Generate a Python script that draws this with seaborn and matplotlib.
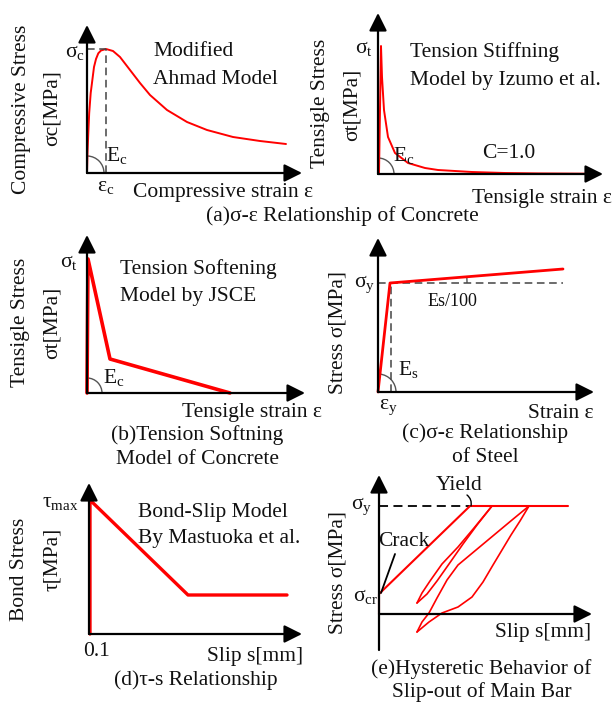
import matplotlib
matplotlib.use("Agg")
import matplotlib.pyplot as plt
from matplotlib.patches import Arc
import seaborn as sns

sns.set_theme(style="white")
plt.rcParams['font.family'] = ['Liberation Serif', 'DejaVu Serif']
plt.rcParams['mathtext.fontset'] = 'custom'
plt.rcParams['mathtext.rm'] = 'Liberation Serif'
plt.rcParams['mathtext.it'] = 'Liberation Serif:italic'

W, H = 615, 704
fig = plt.figure(figsize=(W / 100, H / 100), dpi=100)
fig.patch.set_facecolor('white')

RED = '#ff0000'
FS = 15.5

# ---------------- data (schematic units) ----------------
# (a) compressive: modified Ahmad model
comp_strain = [0, 0.5, 1.3, 2.2, 3.7, 7, 9, 11.3, 14, 19, 26, 33, 43, 53, 63, 80, 100, 120, 146, 173, 199]
comp_stress = [0, 20, 40, 60, 80, 106, 114, 119.7, 122.5, 124, 122, 116, 103, 90, 78, 63, 51, 43, 36, 32, 29]
comp_peak = (19, 124)

# (a) tension stiffening (Izumo et al.)
stiff_strain = [1, 3, 4, 6, 10, 17, 30, 47, 60, 94, 127, 160, 214]
stiff_stress = [0, 128, 97, 64, 37, 21, 11, 6, 4, 2, 1, 0.6, 0.3]

# (b) tension softening (JSCE)
soft_strain = [0, 1, 23, 143]
soft_stress = [0, 134, 34, 0]

# (c) steel bilinear
steel_strain = [0, 12, 185]
steel_stress = [0, 109, 123]
steel_yield_strain = 13.5
steel_yield_stress = 109

# (d) bond-slip
bond_slip = [1, 1, 99, 198]
bond_tau = [0, 134, 39, 39]

# (e) hysteresis of slip-out
hys_slip = [0, 0, 91, 189]
hys_stress = [0, 20, 108, 108]
loop1_unload_s = [113, 95, 79, 63, 51, 43, 38]
loop1_unload_f = [108, 86, 67, 50, 33, 21, 11]
loop1_reload_s = [38, 48, 58, 70, 84, 98, 113]
loop1_reload_f = [11, 20, 33, 50, 70, 89, 108]
loop2_unload_s = [150, 141, 132, 123, 114, 104, 93, 79, 63, 50, 38]
loop2_unload_f = [108, 93, 79, 64, 49, 32, 17, 7, 1, -8, -18]
loop2_reload_s = [38, 43, 50, 58, 68, 79, 97, 115, 133, 150]
loop2_reload_f = [-18, -8, 1, 16, 34, 49, 64, 79, 94, 108]


# ---------------- helpers ----------------
def panel(ox, oy, xtip, ytip, ybot=0):
    """axes whose data units are pixels, origin at pixel (ox, oy)"""
    x0, x1 = -30, xtip + 15
    y0, y1 = -45, ytip + 15
    ax = fig.add_axes([(ox + x0) / W, 1 - (oy - y0) / H,
                       (x1 - x0) / W, (y1 - y0) / H])
    ax.set_xlim(x0, x1)
    ax.set_ylim(y0, y1)
    ax.axis('off')
    ax.patch.set_alpha(0)
    ap = dict(arrowstyle='-|>,head_length=0.9,head_width=0.45', color='black', lw=1.6,
              shrinkA=0, shrinkB=0, mutation_scale=12)
    ax.annotate('', xy=(xtip, 0), xytext=(0, 0), arrowprops=ap, annotation_clip=False)
    ax.annotate('', xy=(0, ytip), xytext=(0, ybot), arrowprops=ap, annotation_clip=False)
    return ax


def red(ax, x, y, lw=1.6):
    sns.lineplot(x=x, y=y, sort=False, estimator=None, color=RED, lw=lw, ax=ax)
    ax.set_xlabel('')
    ax.set_ylabel('')


def arc(ax, r, t2, t1=0, center=(0, 0)):
    ax.add_patch(Arc(center, 2 * r, 2 * r, theta1=t1, theta2=t2, color='#555555', lw=1.0))


def T(x, y, s, ha='center', size=FS, rot=0, va='center'):
    fig.text(x / W, 1 - y / H, s, ha=ha, va=va, fontsize=size, rotation=rot, color='#111111')


dash = dict(color='#444444', lw=1.1, ls=(0, (5, 3)))

# ---------------- (a) compressive ----------------
ax = panel(87, 173, 215, 148)
red(ax, comp_strain, comp_stress, lw=1.4)
ax.plot([0, comp_peak[0]], [comp_peak[1], comp_peak[1]], **dash)
ax.plot([comp_peak[0], comp_peak[0]], [0, comp_peak[1]], **dash)
arc(ax, 17, 88)
T(75, 52, r'$\mathregular{σ_c}$')
T(117, 155, r'$\mathregular{E_c}$')
T(106, 187, r'$\mathregular{ε_c}$')
T(133, 193, 'Compressive strain ε', ha='left')
T(153, 52, 'Modified', ha='left')
T(153, 80, 'Ahmad Model', ha='left')
T(22, 109, 'Compressive Stress', rot=90)
T(52, 108, 'σc[MPa]', rot=90)

# ---------------- (a) tension stiffening ----------------
ax = panel(378, 174, 225, 161)
red(ax, stiff_strain, stiff_stress, lw=1.4)
arc(ax, 16, 89)
T(364, 48, r'$\mathregular{σ_t}$')
T(404, 155, r'$\mathregular{E_c}$')
T(509, 153, 'C=1.0')
T(410, 52, 'Tension Stiffning', ha='left')
T(410, 80, 'Model by Izumo et al.', ha='left')
T(472, 198, 'Tensigle strain ε', ha='left')
T(320, 103, 'Tensigle Stress', rot=90)
T(352, 105, 'σt[MPa]', rot=90)
T(342, 216, '(a)σ-ε Relationship of Concrete')

# ---------------- (b) tension softening ----------------
ax = panel(87, 393, 218, 158)
red(ax, soft_strain, soft_stress, lw=2.6)
arc(ax, 15, 89)
T(69, 263, r'$\mathregular{σ_t}$')
T(114, 377, r'$\mathregular{E_c}$')
T(120, 269, 'Tension Softening', ha='left')
T(120, 296, 'Model by JSCE', ha='left')
T(182, 412, 'Tensigle strain ε', ha='left')
T(197, 435, '(b)Tension Softning')
T(197, 459, 'Model of Concrete')
T(21, 322, 'Tensigle Stress', rot=90)
T(52, 323, 'σt[MPa]', rot=90)

# ---------------- (c) steel ----------------
ax = panel(378, 392, 216, 154)
ax.plot([0, steel_strain[-1]], [steel_yield_stress, steel_yield_stress], **dash)
ax.plot([steel_yield_strain, steel_yield_strain], [0, steel_yield_stress], **dash)
red(ax, steel_strain, steel_stress, lw=2.0)
arc(ax, 18, 84)
arc(ax, 77, 4.6, center=(steel_strain[1], steel_yield_stress))
T(365, 284, r'$\mathregular{σ_y}$')
T(408, 369, r'$\mathregular{E_s}$')
T(388, 407, r'$\mathregular{ε_y}$')
T(428, 302, 'Es/100', ha='left', size=13)
T(528, 413, 'Strain ε', ha='left')
T(485, 433, '(c)σ-ε Relationship')
T(485, 458, 'of Steel')
T(338, 333, 'Stress σ[MPa]', rot=90)

# ---------------- (d) bond-slip ----------------
ax = panel(89, 634, 213, 151)
red(ax, bond_slip, bond_tau, lw=2.4)
T(60, 503, r'$\mathregular{τ_{max}}$')
T(138, 513, 'Bond-Slip Model', ha='left')
T(138, 539, 'By Mastuoka et al.', ha='left')
T(96, 652, '0.1')
T(207, 657, 'Slip s[mm]', ha='left')
T(196, 680, '(d)τ-s Relationship')
T(20, 569, 'Bond Stress', rot=90)
T(52, 559, 'τ[MPa]', rot=90)

# ---------------- (e) hysteresis ----------------
ax = panel(379, 614, 213, 139, ybot=-36)
ax.plot([0, hys_slip[2]], [hys_stress[2], hys_stress[2]], color='black', lw=1.3, ls=(0, (5, 3)))
red(ax, hys_slip, hys_stress, lw=1.5)
red(ax, loop1_unload_s, loop1_unload_f, lw=1.2)
red(ax, loop1_reload_s, loop1_reload_f, lw=1.2)
red(ax, loop2_unload_s, loop2_unload_f, lw=1.2)
red(ax, loop2_reload_s, loop2_reload_f, lw=1.2)
ax.annotate('', xy=(2, 21), xytext=(16, 60),
            arrowprops=dict(arrowstyle='-', color='black', lw=1.3, shrinkA=0, shrinkB=0))
ax.annotate('', xy=(92, 108), xytext=(88, 119),
            arrowprops=dict(arrowstyle='-', color='black', lw=1.0, shrinkA=0, shrinkB=0,
                            connectionstyle='arc3,rad=-0.3'))
T(362, 506, r'$\mathregular{σ_y}$')
T(366, 597, r'$\mathregular{σ_{cr}}$')
T(404, 541, 'Crack')
T(459, 486, 'Yield')
T(495, 633, 'Slip s[mm]', ha='left')
T(481, 669, '(e)Hysteretic Behavior of')
T(482, 692, 'Slip-out of Main Bar')
T(338, 572, 'Stress σ[MPa]', rot=90)

fig.savefig('out.png', dpi=100, facecolor='white')
